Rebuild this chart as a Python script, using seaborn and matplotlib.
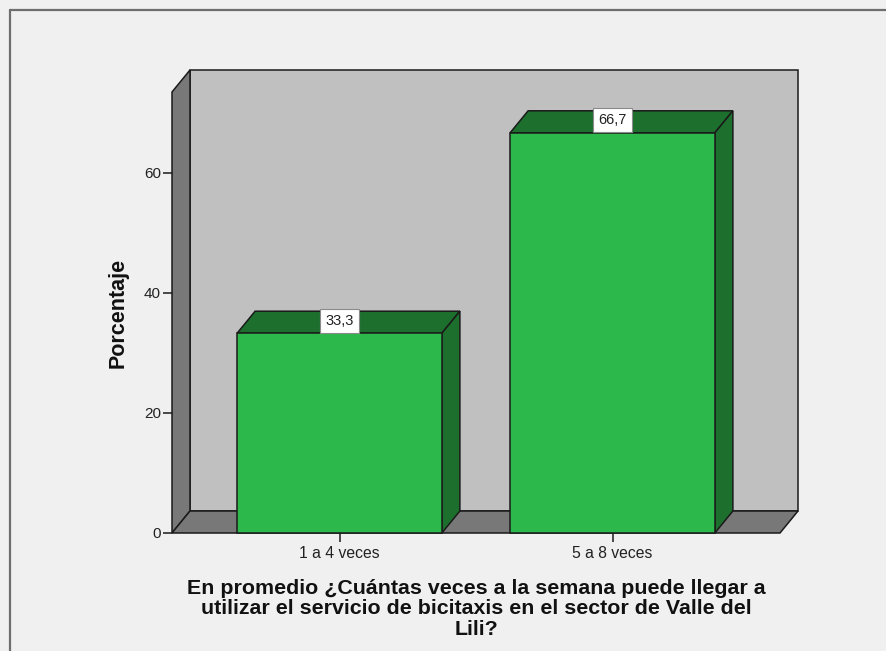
import numpy as np
import pandas as pd
import matplotlib
matplotlib.use("Agg")
import matplotlib.pyplot as plt
from matplotlib.patches import Polygon
from matplotlib.lines import Line2D
import seaborn as sns

# Frequency table
categorias = ["1 a 4 veces", "5 a 8 veces"]
porcentajes = [33.3, 66.7]
etiquetas = ["33,3", "66,7"]
y_ticks = [0, 20, 40, 60]
titulo_x = ("En promedio ¿Cuántas veces a la semana puede llegar a\n"
            "utilizar el servicio de bicitaxis en el sector de Valle del\n"
            "Lili?")
titulo_y = "Porcentaje"

# Colours
FONDO = "#F0F0F0"
PARED_FONDO = "#C0C0C0"
PARED_LADO = "#787878"
VERDE = "#2DB84B"
VERDE_OSCURO = "#1D6F2E"
BORDE = "#1A1A1A"

sns.set_theme(style="white")
plt.rcParams["font.family"] = ["Liberation Sans", "DejaVu Sans"]

W, H, DPI = 886, 651, 100
fig = plt.figure(figsize=(W / DPI, H / DPI), dpi=DPI, facecolor=FONDO)

# axes box in pixels: left 172, right 798, top 70, bottom 533
ax = fig.add_axes([172 / W, (H - 533) / H, 626 / W, 463 / H])
ax.set_facecolor("none")

df = pd.DataFrame({"categoria": categorias, "porcentaje": porcentajes})
sns.barplot(data=df, x="categoria", y="porcentaje", width=0.75, color=VERDE,
            edgecolor=BORDE, linewidth=1.1, saturation=1, errorbar=None,
            ax=ax, zorder=5)
barras = list(ax.patches)

# pixel scale of the plot: 273 px per category, 6 px per percent
PX_X, PX_Y = 273.0, 6.0
X0 = -167.5 / PX_X          # front-left corner
X1 = 1 + 167.5 / PX_X       # front-right corner
DX, DY = 18 / PX_X, 22 / PX_Y   # depth offset of the 3D frame
YT = 441 / PX_Y             # height of the front frame edge

ax.set_xlim(X0, X0 + 626 / PX_X)
ax.set_ylim(0, 463 / PX_Y)

kw = dict(edgecolor=BORDE, linewidth=1.1, joinstyle="miter", clip_on=False)
# back wall
ax.add_patch(Polygon([(X0 + DX, DY), (X1 + DX, DY), (X1 + DX, YT + DY),
                      (X0 + DX, YT + DY)], facecolor=PARED_FONDO, zorder=1, **kw))
# left wall
ax.add_patch(Polygon([(X0, 0), (X0 + DX, DY), (X0 + DX, YT + DY), (X0, YT)],
                     facecolor=PARED_LADO, zorder=2, **kw))
# floor
ax.add_patch(Polygon([(X0, 0), (X1, 0), (X1 + DX, DY), (X0 + DX, DY)],
                     facecolor=PARED_LADO, zorder=2, **kw))

# 3D faces of each bar plus value label
for barra, txt in zip(barras, etiquetas):
    barra.set_clip_on(False)
    l = barra.get_x()
    r = l + barra.get_width()
    h = barra.get_height()
    ax.add_patch(Polygon([(l, h), (r, h), (r + DX, h + DY), (l + DX, h + DY)],
                         facecolor=VERDE_OSCURO, zorder=4, **kw))
    ax.add_patch(Polygon([(r, 0), (r + DX, DY), (r + DX, h + DY), (r, h)],
                         facecolor=VERDE_OSCURO, zorder=4, **kw))
    ax.annotate(txt, xy=((l + r) / 2, h), xytext=(0, 9.0),
                textcoords="offset points", ha="center", va="center",
                fontsize=10.5, color="#222222", zorder=7,
                bbox=dict(boxstyle="square,pad=0.35", facecolor="white",
                          edgecolor="#8A8A8A", linewidth=0.8))

for s in ax.spines.values():
    s.set_visible(False)

ax.set_yticks(y_ticks)
ax.set_yticklabels([str(v) for v in y_ticks])
ax.tick_params(axis="y", left=True, length=6.5, width=1.1, color=BORDE,
               labelsize=11, labelcolor="#222222", pad=1.5)
ax.tick_params(axis="x", bottom=True, length=6.5, width=1.1, color=BORDE,
               labelsize=11.3, labelcolor="#222222", pad=3)
ax.set_xlabel("")
ax.set_ylabel("")

fig.text(118 / W, (H - 313) / H, titulo_y, rotation=90, ha="center",
         va="center", fontsize=15.5, fontweight="bold", color="#111111")
fig.text(476 / W, (H - 609) / H, titulo_x, ha="center", va="center",
         fontsize=15.4, fontweight="bold", color="#111111", linespacing=1.08)

# outer frame (top and left edges)
fig.add_artist(Line2D([9.5 / W, 9.5 / W], [0, (H - 9.5) / H],
                      color="#6E6E6E", linewidth=1.6))
fig.add_artist(Line2D([9.5 / W, 1], [(H - 9.5) / H, (H - 9.5) / H],
                      color="#6E6E6E", linewidth=1.6))

fig.savefig("out.png", dpi=DPI, facecolor=FONDO)
